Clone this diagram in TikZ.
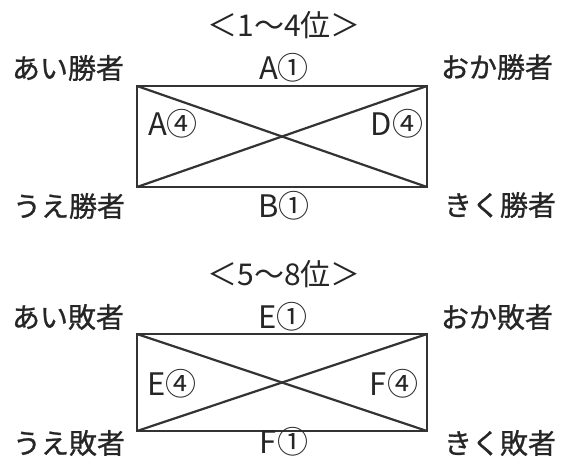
\documentclass[tikz,border=0pt]{standalone}
\usepackage{fontspec}
\setmainfont{Noto Sans CJK JP}
\newfontfamily\jpmed{Noto Sans CJK JP}[FakeBold=0.9]
\begin{document}
\begin{tikzpicture}[x=1pt,y=-1pt,
  lbl/.style={inner sep=0pt,font=\jpmed\fontsize{28}{30}\selectfont,text=black!85},
  seedlbl/.style={inner sep=0pt,font=\fontsize{31}{33}\selectfont,text=black!85},
  ttl/.style={inner sep=0pt,font=\fontsize{30}{32}\selectfont,text=black!85},
  edge/.style={draw=black!80,line width=2.4pt},
  diag/.style={draw=black!80,line width=2.2pt}]
\useasboundingbox (0,0) rectangle (562,461);
\fill[white] (0,0) rectangle (562,461);
% ---- upper: 1-4 ----
\node[ttl] (t1) at (284,25) {＜1～4位＞};
\coordinate (a1) at (137,86);
\coordinate (b1) at (427,86);
\coordinate (c1) at (427,187);
\coordinate (d1) at (137,187);
\draw[edge] (a1) -- (b1) -- (c1) -- (d1) -- cycle;
\draw[diag] (a1) -- (c1);
\draw[diag] (d1) -- (b1);
\node[lbl] (ai1) at (68,68) {あい勝者};
\node[lbl] (ok1) at (497,67) {おか勝者};
\node[lbl] (ue1) at (69,206) {うえ勝者};
\node[lbl] (kk1) at (500,205) {きく勝者};
\node[seedlbl] (top1) at (284,68) {A①};
\node[seedlbl] (bot1) at (284,206) {B①};
\node[seedlbl] (lft1) at (173,124) {A④};
\node[seedlbl] (rgt1) at (397,124) {D④};
% ---- lower: 5-8 ----
\node[ttl] (t2) at (284,274) {＜5～8位＞};
\coordinate (a2) at (137,334);
\coordinate (b2) at (427,334);
\coordinate (c2) at (427,431);
\coordinate (d2) at (137,431);
\draw[edge] (a2) -- (b2) -- (c2) -- (d2) -- cycle;
\draw[diag] (a2) -- (c2);
\draw[diag] (d2) -- (b2);
\node[lbl] (ai2) at (68,317) {あい敗者};
\node[lbl] (ok2) at (497,317) {おか敗者};
\node[lbl] (ue2) at (69,443) {うえ敗者};
\node[lbl] (kk2) at (500,443) {きく敗者};
\node[seedlbl] (top2) at (283,317) {E①};
\node[seedlbl] (bot2) at (284,442) {F①};
\node[seedlbl] (lft2) at (172,384) {E④};
\node[seedlbl] (rgt2) at (394,384) {F④};
\end{tikzpicture}
\end{document}
